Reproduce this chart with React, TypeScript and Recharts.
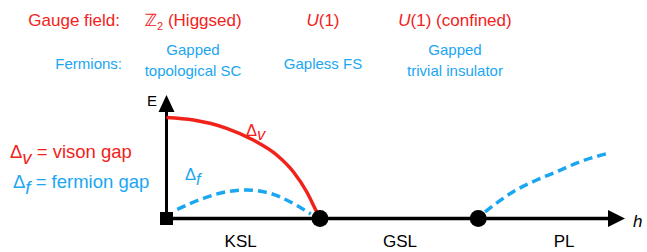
import { ComposedChart, Line, Scatter, XAxis, YAxis, ReferenceLine } from 'recharts';

const W = 647;
const H = 252;
const RED = '#f2221b';
const BLUE = '#1ba6f2';
const FONT = '"Liberation Sans", Arial, Helvetica, sans-serif';

// field h (x) and energy E (y), arbitrary units
const hMax = 2.987;
const eMax = 1.223;
const transitions = [1.0, 2.031];
const phaseNames = ['KSL', 'GSL', 'PL'];
const phaseCenters = [0.483, 1.521, 2.59];

// vison gap, closes at the first transition
const visonH = [0, 0.175, 0.392, 0.565, 0.718, 0.826, 0.913, 0.978, 1.0];
const visonE = [1.0, 0.975, 0.893, 0.777, 0.629, 0.463, 0.265, 0.067, 0];

// fermion gap inside the KSL
const fermionKslH = [0.07, 0.24, 0.392, 0.522, 0.674, 0.805, 0.94];
const fermionKslE = [0.09, 0.2, 0.265, 0.282, 0.25, 0.166, 0.045];

// fermion gap in the PL phase
const fermionPlH = [2.075, 2.259, 2.412, 2.542, 2.694, 2.889];
const fermionPlE = [0.065, 0.265, 0.381, 0.463, 0.562, 0.651];

const zip = (hs: number[], es: number[]) => hs.map((h, i) => ({ h, E: es[i] }));

const vison = zip(visonH, visonE);
const fermionKsl = zip(fermionKslH, fermionKslE);
const fermionPl = zip(fermionPlH, fermionPlE);
const critPoints = transitions.map((h) => ({ h, E: 0 }));

const circle = (p: any) => <circle cx={p.cx} cy={p.cy} r={8.5} fill="#000" />;
const square = (p: any) => <rect x={p.cx - 6.5} y={p.cy - 6.5} width={13} height={13} fill="#000" />;
const arrowRight = (p: any) => (
    <polygon points={`${p.cx},${p.cy} ${p.cx - 17},${p.cy - 8.5} ${p.cx - 17},${p.cy + 8.5}`} fill="#000" />
);
const arrowUp = (p: any) => (
    <polygon points={`${p.cx},${p.cy} ${p.cx - 8},${p.cy + 17} ${p.cx + 8},${p.cy + 17}`} fill="#000" />
);

function Txt({ x, y, anchor = 'start', color = '#000', size = 15, children }: any) {
    const tx = anchor === 'middle' ? '-50%' : anchor === 'end' ? '-100%' : '0';
    return (
        <div
            style={{
                position: 'absolute',
                left: x,
                top: y,
                transform: `translateX(${tx})`,
                color,
                fontSize: size,
                lineHeight: 1,
                whiteSpace: 'nowrap',
            }}
        >
            {children}
        </div>
    );
}

const sub = (s: string, drop: number) => (
    <span style={{ fontStyle: 'italic', position: 'relative', top: drop }}>{s}</span>
);

export default function App() {
    return (
        <div style={{ position: 'absolute', left: 0, top: 0, width: W, height: H, fontFamily: FONT, background: '#fff' }}>
            <ComposedChart width={W} height={H} margin={{ top: 95, right: 22, bottom: 3.5, left: 166.5 }}>
                <XAxis
                    type="number"
                    dataKey="h"
                    domain={[0, hMax]}
                    ticks={phaseCenters}
                    interval={0}
                    tickFormatter={(v: number, i: number) => phaseNames[i]}
                    axisLine={false}
                    tickLine={false}
                    tickMargin={10}
                    height={30}
                    tick={{ fill: '#000', fontSize: 17, fontFamily: FONT }}
                />
                <YAxis type="number" dataKey="E" domain={[0, eMax]} hide />
                <ReferenceLine segment={[{ x: 0, y: 0 }, { x: hMax - 0.05, y: 0 }]} stroke="#000" strokeWidth={3.5} />
                <ReferenceLine segment={[{ x: 0, y: 0 }, { x: 0, y: eMax - 0.05 }]} stroke="#000" strokeWidth={3} />
                <Line data={vison} dataKey="E" type="monotone" stroke={RED} strokeWidth={3.5} dot={false} isAnimationActive={false} />
                <Line data={fermionKsl} dataKey="E" type="monotone" stroke={BLUE} strokeWidth={3.5} strokeDasharray="9 5" dot={false} isAnimationActive={false} />
                <Line data={fermionPl} dataKey="E" type="monotone" stroke={BLUE} strokeWidth={3.5} strokeDasharray="9 5" dot={false} isAnimationActive={false} />
                <Scatter data={[{ h: 0, E: 0 }]} dataKey="E" shape={square} isAnimationActive={false} />
                <Scatter data={critPoints} dataKey="E" shape={circle} isAnimationActive={false} />
                <Scatter data={[{ h: hMax, E: 0 }]} dataKey="E" shape={arrowRight} isAnimationActive={false} />
                <Scatter data={[{ h: 0, E: eMax }]} dataKey="E" shape={arrowUp} isAnimationActive={false} />
            </ComposedChart>

            <Txt x={120} y={11.5} anchor="end" color={RED} size={17}>Gauge field:</Txt>
            <Txt x={193} y={11.5} anchor="middle" color={RED} size={17}>
                <span style={{ fontFamily: '"DejaVu Sans"' }}>ℤ</span>
                <span style={{ fontSize: 11, position: 'relative', top: 4 }}>2</span> (Higgsed)
            </Txt>
            <Txt x={323} y={11.5} anchor="middle" color={RED} size={17}>
                <i>U</i>(1)
            </Txt>
            <Txt x={455} y={11.5} anchor="middle" color={RED} size={17}>
                <i>U</i>(1) (confined)
            </Txt>

            <Txt x={122} y={55.5} anchor="end" color={BLUE} size={15}>Fermions:</Txt>
            <Txt x={193} y={41.5} anchor="middle" color={BLUE} size={15}>Gapped</Txt>
            <Txt x={193} y={62.5} anchor="middle" color={BLUE} size={15}>topological SC</Txt>
            <Txt x={323} y={55.5} anchor="middle" color={BLUE} size={15}>Gapless FS</Txt>
            <Txt x={455} y={41.5} anchor="middle" color={BLUE} size={15}>Gapped</Txt>
            <Txt x={455} y={62.5} anchor="middle" color={BLUE} size={15}>trivial insulator</Txt>

            <Txt x={147} y={93} size={15}>E</Txt>
            <Txt x={633} y={212.5} size={17}><i>h</i></Txt>

            <Txt x={246} y={122} color={RED} size={16.5}>Δ{sub('v', 4)}</Txt>
            <Txt x={185} y={166} color={BLUE} size={16.5}>Δ{sub('f', 5)}</Txt>

            <Txt x={10} y={142.5} color={RED} size={18.5}>
                Δ{sub('v', 6)} = vison gap
            </Txt>
            <Txt x={13} y={172.5} color={BLUE} size={18.5}>
                Δ{sub('f', 6)} = fermion gap
            </Txt>
        </div>
    );
}
